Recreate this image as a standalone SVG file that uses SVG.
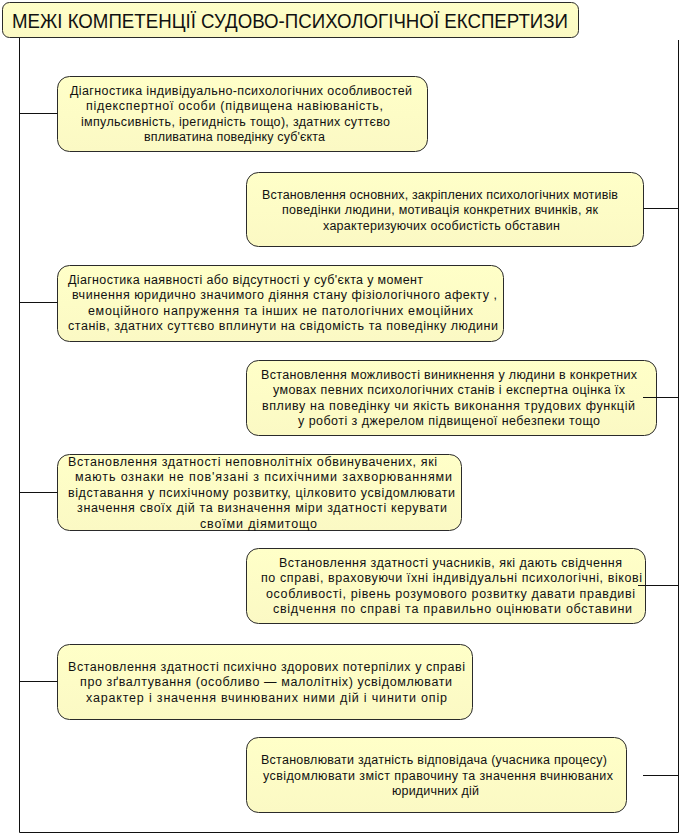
<svg xmlns="http://www.w3.org/2000/svg" width="682" height="834" viewBox="0 0 682 834">
<defs>
<linearGradient id="fill" x1="0" y1="0" x2="0" y2="1">
<stop offset="0" stop-color="#FFFFC8"/>
<stop offset="1" stop-color="#FBF9C4"/>
</linearGradient>
</defs>
<style>
.box{fill:url(#fill);stroke:#2a2a2a;stroke-width:1}
.t{font-family:"Liberation Sans",Arial,sans-serif;font-size:12.5px;fill:#111}
.title{font-family:"Liberation Sans",Arial,sans-serif;font-size:21px;fill:#111}
.c{stroke:#111;stroke-width:1;fill:none}
</style>
<rect width="682" height="834" fill="#fff"/>
<g id="title">
<rect class="box" x="2.5" y="2.5" width="576" height="35" rx="7"/>
<text class="title" x="12" y="28" textLength="556" lengthAdjust="spacingAndGlyphs">МЕЖІ КОМПЕТЕНЦІЇ СУДОВО-ПСИХОЛОГІЧНОЇ ЕКСПЕРТИЗИ</text>
</g>
<g id="n1">
<rect class="box" x="57.5" y="76.5" width="370" height="75" rx="12"/>
<text class="t" x="70" y="94.75" textLength="342" lengthAdjust="spacing">Діагностика індивідуально-психологічних особливостей</text>
<text class="t" x="86" y="110.25" textLength="297" lengthAdjust="spacing">підекспертної особи (підвищена навіюваність,</text>
<text class="t" x="81" y="125.75" textLength="309" lengthAdjust="spacing">імпульсивність, ірегидність тощо), здатних суттєво</text>
<text class="t" x="144" y="141.25" textLength="181" lengthAdjust="spacing">впливатина поведінку суб'єкта</text>
</g>
<g id="n2">
<rect class="box" x="246.5" y="172.5" width="397" height="74" rx="12"/>
<text class="t" x="262" y="198.5" textLength="356" lengthAdjust="spacing">Встановлення основних, закріплених психологічних мотивів</text>
<text class="t" x="282" y="214" textLength="316" lengthAdjust="spacing">поведінки людини, мотивація конкретних вчинків, як</text>
<text class="t" x="323" y="229.5" textLength="237" lengthAdjust="spacing">характеризуючих особистість обставин</text>
</g>
<g id="n3">
<rect class="box" x="57.5" y="265.5" width="446" height="76" rx="12"/>
<text class="t" x="68" y="283.75" textLength="355" lengthAdjust="spacing">Діагностика наявності або відсутності у суб'єкта у момент</text>
<text class="t" x="72" y="299.25" textLength="425" lengthAdjust="spacing">вчинення юридично значимого діяння стану фізіологічного афекту ,</text>
<text class="t" x="88" y="314.75" textLength="385" lengthAdjust="spacing">емоційного напруження та інших не патологічних емоційних</text>
<text class="t" x="68" y="330.25" textLength="430" lengthAdjust="spacing">станів, здатних суттєво вплинути на свідомість та поведінку людини</text>
</g>
<g id="n4">
<rect class="box" x="246.5" y="360.5" width="410" height="75" rx="12"/>
<text class="t" x="261" y="378.75" textLength="376" lengthAdjust="spacing">Встановлення можливості виникнення у людини в конкретних</text>
<text class="t" x="273" y="394.25" textLength="352" lengthAdjust="spacing">умовах певних психологічних станів і експертна оцінка їх</text>
<text class="t" x="262" y="409.75" textLength="373" lengthAdjust="spacing">впливу на поведінку чи якість виконання трудових функцій</text>
<text class="t" x="298" y="425.25" textLength="302" lengthAdjust="spacing">у роботі з джерелом підвищеної небезпеки тощо</text>
</g>
<g id="n5">
<rect class="box" x="57.5" y="454.5" width="404" height="76" rx="12"/>
<text class="t" x="68" y="465.5" textLength="369" lengthAdjust="spacing">Встановлення здатності неповнолітніх обвинувачених, які</text>
<text class="t" x="75" y="481" textLength="377" lengthAdjust="spacing">мають ознаки не пов'язані з психічними захворюваннями</text>
<text class="t" x="68" y="496.5" textLength="387" lengthAdjust="spacing">відставання у психічному розвитку, цілковито усвідомлювати</text>
<text class="t" x="77" y="512" textLength="370" lengthAdjust="spacing">значення своїх дій та визначення міри здатності керувати</text>
<text class="t" x="200" y="527.5" textLength="117" lengthAdjust="spacing">своїми діямитощо</text>
</g>
<g id="n6">
<rect class="box" x="246.5" y="548.5" width="399" height="75" rx="12"/>
<text class="t" x="279" y="566.75" textLength="343" lengthAdjust="spacing">Встановлення здатності учасників, які дають свідчення</text>
<text class="t" x="261" y="582.25" textLength="381" lengthAdjust="spacing">по справі, враховуючи їхні індивідуальні психологічні, вікові</text>
<text class="t" x="266" y="597.75" textLength="369" lengthAdjust="spacing">особливості, рівень розумового розвитку давати правдиві</text>
<text class="t" x="273" y="613.25" textLength="359" lengthAdjust="spacing">свідчення по справі та правильно оцінювати обставини</text>
</g>
<g id="n7">
<rect class="box" x="57.5" y="644.5" width="415" height="75" rx="12"/>
<text class="t" x="68" y="670.5" textLength="397" lengthAdjust="spacing">Встановлення здатності психічно здорових потерпілих у справі</text>
<text class="t" x="80" y="686" textLength="372" lengthAdjust="spacing">про зґвалтування (особливо — малолітніх) усвідомлювати</text>
<text class="t" x="86" y="701.5" textLength="361" lengthAdjust="spacing">характер і значення вчинюваних ними дій і чинити опір</text>
</g>
<g id="n8">
<rect class="box" x="246.5" y="737.5" width="380" height="75" rx="12"/>
<text class="t" x="261" y="764" textLength="346" lengthAdjust="spacing">Встановлювати здатність відповідача (учасника процесу)</text>
<text class="t" x="263" y="779.5" textLength="350" lengthAdjust="spacing">усвідомлювати зміст правочину та значення вчинюваних</text>
<text class="t" x="392" y="795" textLength="87" lengthAdjust="spacing">юридичних дій</text>
</g>
<g id="connectors">
<path class="c" d="M19.5 38 V832.5 H678.5 V40"/>
<path class="c" d="M19.5 113.5 H57.5"/>
<path class="c" d="M19.5 302.5 H57.5"/>
<path class="c" d="M19.5 492.5 H57.5"/>
<path class="c" d="M19.5 681.5 H57.5"/>
<path class="c" d="M643.5 208.5 H678.5"/>
<path class="c" d="M643 397.5 H678.5"/>
<path class="c" d="M638 585.5 H678.5"/>
<path class="c" d="M643 775.5 H678.5"/>
</g>
</svg>
